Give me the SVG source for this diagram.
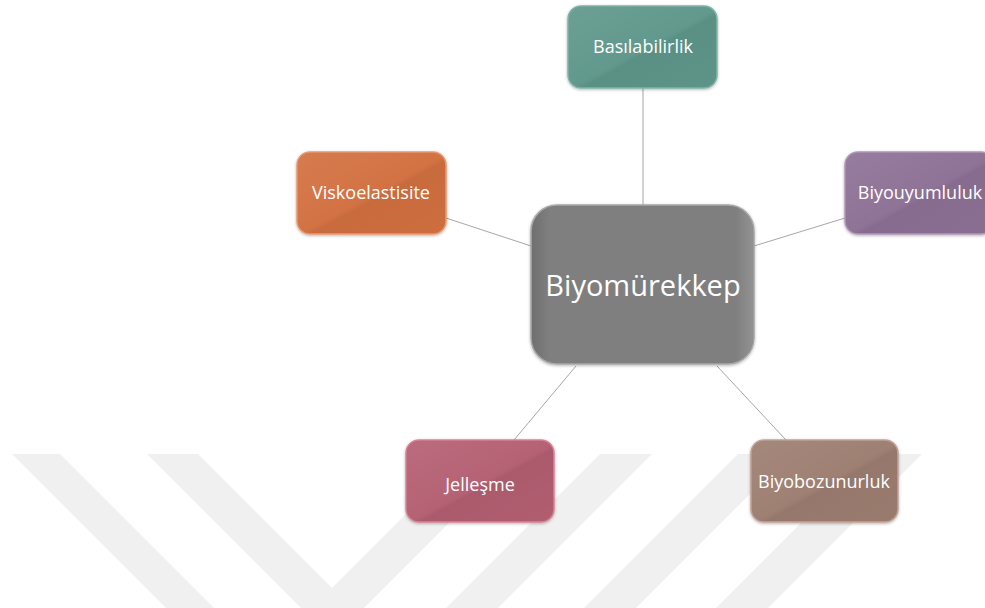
<svg xmlns="http://www.w3.org/2000/svg" width="985" height="608" viewBox="0 0 985 608">
<defs>
<filter id="sh" x="-10%" y="-10%" width="120%" height="130%">
<feDropShadow dx="0" dy="1" stdDeviation="1.5" flood-color="#000" flood-opacity="0.3"/>
</filter>
<linearGradient id="sheen" x1="0" y1="0" x2="1" y2="1">
<stop offset="0" stop-color="#fff" stop-opacity="0.08"/>
<stop offset="0.5" stop-color="#fff" stop-opacity="0.02"/>
<stop offset="0.55" stop-color="#000" stop-opacity="0.05"/>
<stop offset="1" stop-color="#000" stop-opacity="0.02"/>
</linearGradient>
<linearGradient id="edge" x1="0" y1="0" x2="1" y2="0">
<stop offset="0" stop-color="#000" stop-opacity="0.12"/>
<stop offset="0.08" stop-color="#000" stop-opacity="0"/>
<stop offset="0.92" stop-color="#fff" stop-opacity="0"/>
<stop offset="1" stop-color="#fff" stop-opacity="0.15"/>
</linearGradient>
</defs>
<style>
.wm{fill:#f0f0f0}
.box{filter:url(#sh);stroke-width:1.5}
.ov{fill:url(#sheen);stroke:none}
.ed{fill:url(#edge);stroke:none}
.lbl{font-family:"Open Sans","Noto Sans",sans-serif;fill:#fff;text-anchor:middle;dominant-baseline:central}
.s{font-size:18px}
.b{font-size:29px}
.con line{stroke:#a6a6a6;stroke-width:1}
</style>
<rect width="985" height="608" fill="#fff"/>
<g id="watermark">
<polygon class="wm" points="12,454 60,454 214,608 166,608"/>
<polygon class="wm" points="147,454 198,454 352,608 301,608"/>
<polygon class="wm" points="466,454 518,454 364,608 312,608"/>
<polygon class="wm" points="600,454 652,454 498,608 446,608"/>
<polygon class="wm" points="738,454 790,454 636,608 584,608"/>
<polygon class="wm" points="870,454 922,454 768,608 716,608"/>
</g>
<g id="connectors" class="con">
<line x1="643" y1="88" x2="643" y2="205"/>
<line x1="446" y1="218" x2="531" y2="246"/>
<line x1="845" y1="218" x2="754" y2="246"/>
<line x1="514" y1="440" x2="576" y2="366"/>
<line x1="786" y1="440" x2="717" y2="366"/>
</g>
<g id="node-center">
<rect class="box" x="531" y="205" width="223" height="159" rx="26" fill="#7f7f7f" stroke="#a8a8a8"/>
<rect class="ed" x="532" y="206" width="221" height="157" rx="25"/>
<text class="lbl b" x="643" y="284">Biyomürekkep</text>
</g>
<g id="node-basilabilirlik">
<rect class="box" x="568" y="6" width="149" height="82" rx="13" fill="#5f978b" stroke="#7fb5a8"/>
<rect class="ov" x="569" y="7" width="147" height="80" rx="12"/>
<text class="lbl s" x="643" y="46">Basılabilirlik</text>
</g>
<g id="node-viskoelastisite">
<rect class="box" x="297" y="152" width="149" height="82" rx="13" fill="#d2703f" stroke="#e99870"/>
<rect class="ov" x="298" y="153" width="147" height="80" rx="12"/>
<text class="lbl s" x="371" y="192">Viskoelastisite</text>
</g>
<g id="node-biyouyumluluk">
<rect class="box" x="845" y="152" width="149" height="82" rx="13" fill="#8d7195" stroke="#b097b8"/>
<rect class="ov" x="846" y="153" width="147" height="80" rx="12"/>
<text class="lbl s" x="920" y="192">Biyouyumluluk</text>
</g>
<g id="node-jellesme">
<rect class="box" x="406" y="440" width="148" height="82" rx="13" fill="#b45e72" stroke="#d98296"/>
<rect class="ov" x="407" y="441" width="146" height="80" rx="12"/>
<text class="lbl s" x="480" y="484">Jelleşme</text>
</g>
<g id="node-biyobozunurluk">
<rect class="box" x="751" y="440" width="147" height="82" rx="13" fill="#9d7e71" stroke="#c2a295"/>
<rect class="ov" x="752" y="441" width="145" height="80" rx="12"/>
<text class="lbl s" x="824" y="481">Biyobozunurluk</text>
</g>
</svg>
